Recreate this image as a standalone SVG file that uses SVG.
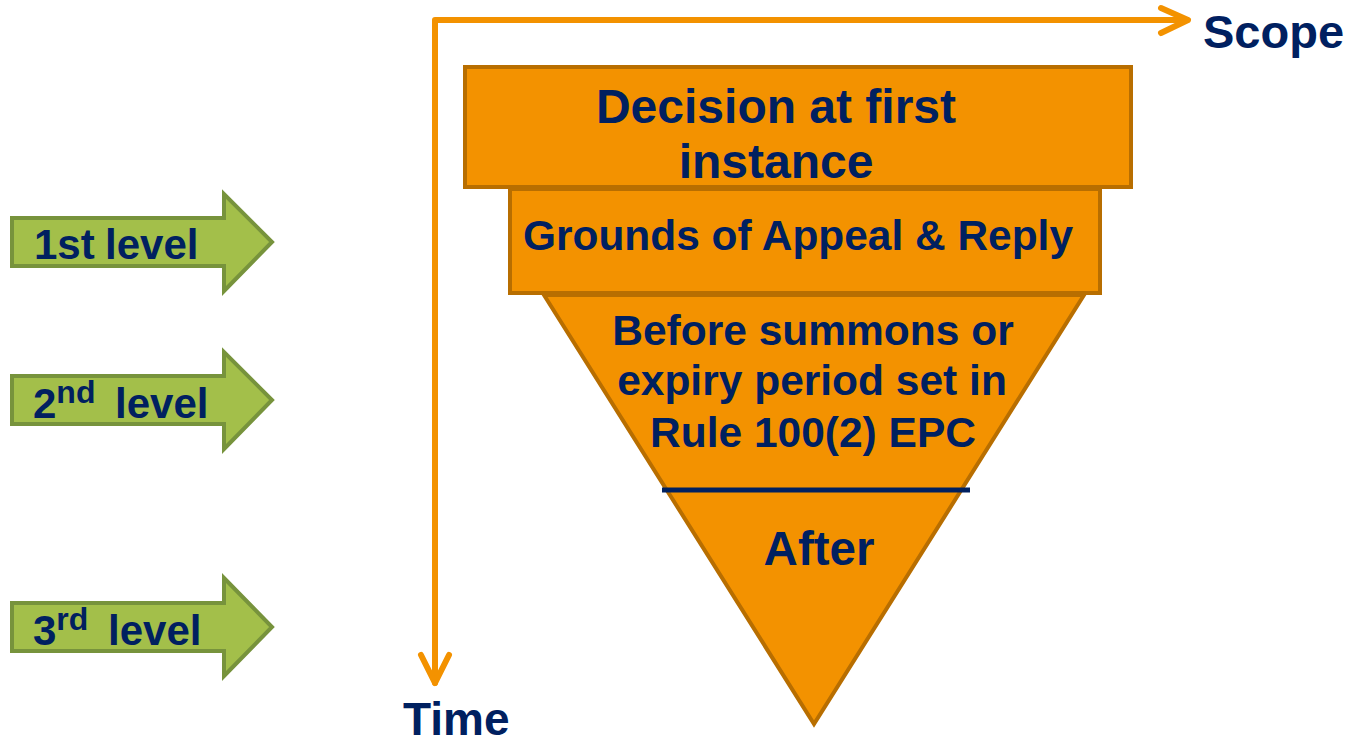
<svg xmlns="http://www.w3.org/2000/svg" width="1350" height="745" viewBox="0 0 1350 745">
<style>
.t{font-family:"Liberation Sans",Arial,sans-serif;font-weight:bold;fill:#002060}
.g{fill:#A3BF4A;stroke:#77933C;stroke-width:4}
.o{fill:#F39200;stroke:#B86E00;stroke-width:4}
.ax{fill:none;stroke:#F39200;stroke-width:6;stroke-linecap:round;stroke-linejoin:round}
.sup{font-size:32px}
</style>
<rect width="1350" height="745" fill="#fff"/>
<g id="connectors">
<polyline class="ax" points="1187,20 435,20 435,683"/>
<polyline class="ax" points="1161,8 1188,20 1161,33"/>
<polyline class="ax" points="421,655 435,683 449,655"/>
</g>
<g id="scope"><text class="t" x="1203" y="48" font-size="47">Scope</text></g>
<g id="time"><text class="t" x="403" y="735" font-size="46">Time</text></g>
<g id="level1">
<polygon class="g" points="12,218 224,218 224,194 272,242 224,291 224,266 12,266"/>
<text class="t" x="34" y="259" font-size="42">1st<tspan x="105">level</tspan></text>
</g>
<g id="level2">
<polygon class="g" points="12,376 224,376 224,352 272,400 224,449 224,424 12,424"/>
<text class="t" x="33" y="418" font-size="42">2<tspan class="sup" dy="-15">nd</tspan><tspan x="115" dy="15">level</tspan></text>
</g>
<g id="level3">
<polygon class="g" points="12,603 224,603 224,578 272,627 224,676 224,651 12,651"/>
<text class="t" x="33" y="645" font-size="42">3<tspan class="sup" dy="-15">rd</tspan><tspan x="108" dy="15">level</tspan></text>
</g>
<g id="decision">
<rect class="o" x="465" y="67" width="666" height="120"/>
<text class="t" x="776" y="123" font-size="48" text-anchor="middle">Decision at first</text>
<text class="t" x="776" y="178" font-size="48" text-anchor="middle">instance</text>
</g>
<g id="grounds">
<rect class="o" x="510" y="189" width="590" height="104"/>
<text class="t" x="798" y="250" font-size="43" text-anchor="middle" textLength="550" lengthAdjust="spacingAndGlyphs">Grounds of Appeal &amp; Reply</text>
</g>
<g id="funnel">
<polygon class="o" points="544,295 1084,295 814,724"/>
<text class="t" x="813" y="345" font-size="42.5" text-anchor="middle">Before summons or</text>
<text class="t" x="812" y="395" font-size="42.5" text-anchor="middle">expiry period set in</text>
<text class="t" x="813" y="447" font-size="42.5" text-anchor="middle">Rule 100(2) EPC</text>
<line x1="662" y1="490" x2="970" y2="490" stroke="#002060" stroke-width="5"/>
<text class="t" x="819" y="565" font-size="47.5" text-anchor="middle">After</text>
</g>
</svg>
